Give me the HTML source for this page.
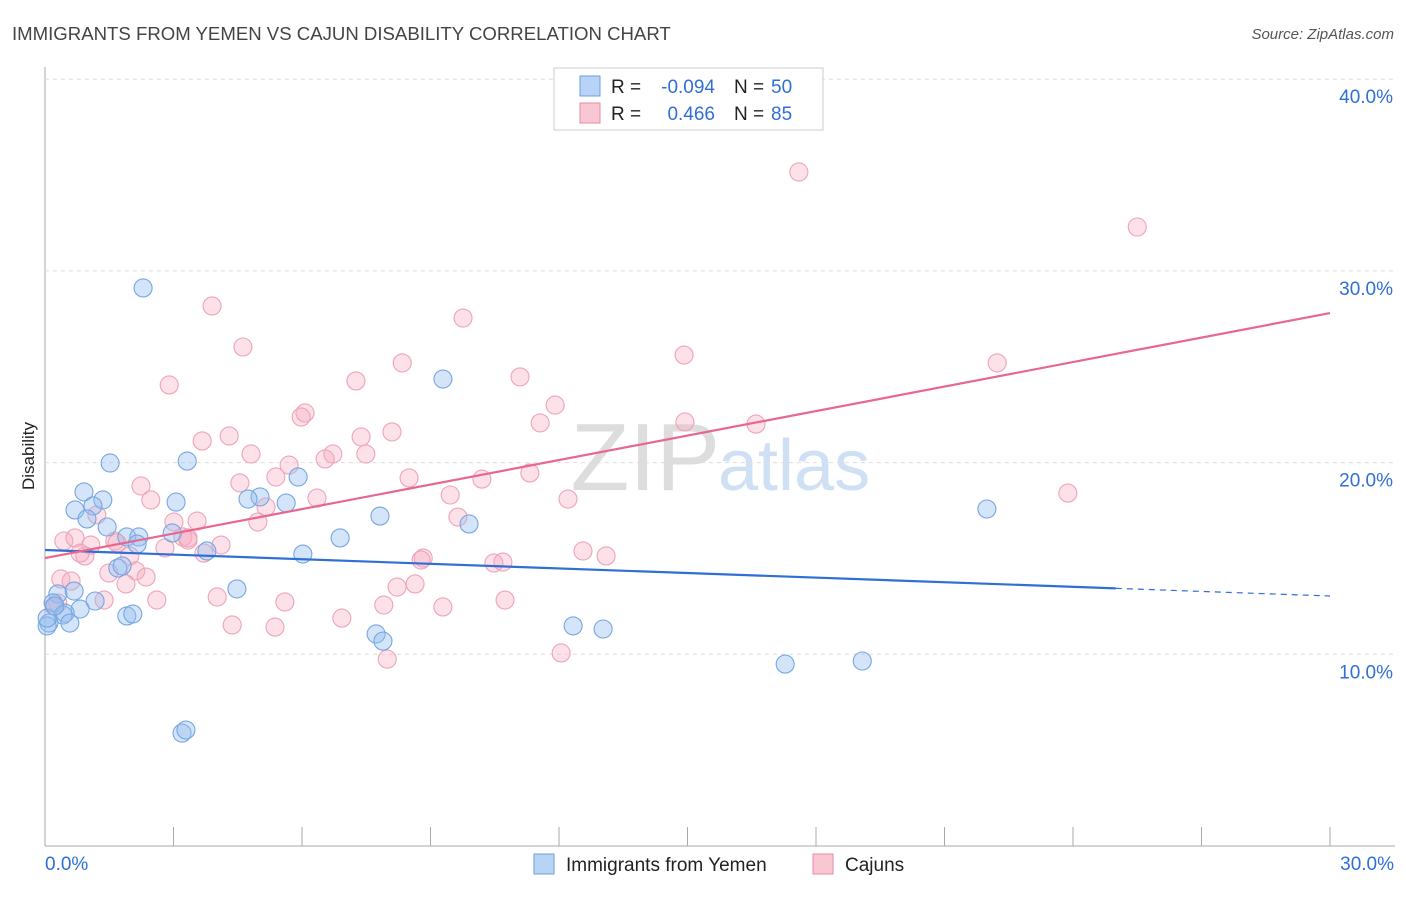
<!DOCTYPE html>
<html><head><meta charset="utf-8"><style>
body{margin:0;background:#fff;font-family:"Liberation Sans",sans-serif}
svg text{font-family:"Liberation Sans",sans-serif}
</style></head><body>
<svg id="c" width="1406" height="892">
<text x="12" y="40" font-size="18.6" fill="#444">IMMIGRANTS FROM YEMEN VS CAJUN DISABILITY CORRELATION CHART</text>
<text x="1394" y="39" font-size="15" fill="#555" font-style="italic" text-anchor="end">Source: ZipAtlas.com</text>
<text x="720" y="490" font-size="96" fill="#ddd" font-family="Liberation Serif" text-anchor="end">ZIP</text>
<text x="718" y="490" font-size="72" fill="#cfe0f5">atlas</text>
<text transform="translate(34,456) rotate(-90)" font-size="17" fill="#222" text-anchor="middle">Disability</text>
<g id="grid"></g><g id="pts"></g><g id="lines"></g>
<g>
<rect x="554" y="68" width="269" height="62" fill="#fff" stroke="#ccc"/>
<rect x="580" y="76" width="20" height="20" fill="#b8d3f5" stroke="#6a9fe0"/>
<rect x="580" y="103" width="20" height="20" fill="#f9c6d4" stroke="#e8899f"/>
<text x="611" y="93" font-size="19" fill="#222">R =</text>
<text x="715" y="93" font-size="19" fill="#2f6fd6" text-anchor="end">-0.094</text>
<text x="734" y="93" font-size="19" fill="#222">N =</text>
<text x="771" y="93" font-size="19" fill="#2f6fd6">50</text>
<text x="611" y="120" font-size="19" fill="#222">R =</text>
<text x="715" y="120" font-size="19" fill="#2f6fd6" text-anchor="end">0.466</text>
<text x="734" y="120" font-size="19" fill="#222">N =</text>
<text x="771" y="120" font-size="19" fill="#2f6fd6">85</text>
</g>
<g>
<rect x="534" y="854" width="20" height="20" fill="#b8d3f5" stroke="#6a9fe0"/>
<text x="566" y="871" font-size="19" fill="#222">Immigrants from Yemen</text>
<rect x="813" y="854" width="20" height="20" fill="#f9c6d4" stroke="#e8899f"/>
<text x="845" y="871" font-size="19" fill="#222">Cajuns</text>
</g>
</svg>
<script>
const yTicks=[10,20,30,40];
const xTickLabels=["0.0%","30.0%"];
const blueX=[2.29,9.29,1.52,3.32,0.91,1.35,0.70,1.12,3.06,5.02,4.74,5.63,5.91,0.98,1.45,7.82,9.90,6.89,1.91,2.19,2.15,2.97,3.78,6.02,1.70,1.80,4.48,0.68,0.30,1.17,0.82,0.19,0.47,0.42,0.58,0.09,0.05,1.91,2.05,7.73,7.89,12.33,13.03,17.28,19.08,3.20,3.29,21.99,0.05,0.23];
const blueY=[29.11,24.36,19.98,20.08,18.47,18.05,17.53,17.74,17.94,18.21,18.10,17.89,19.25,17.06,16.64,17.21,16.80,16.07,16.12,16.12,15.75,16.33,15.39,15.23,14.50,14.61,13.41,13.30,13.15,12.78,12.36,12.68,12.15,12.05,11.63,11.63,11.48,12.00,12.10,11.06,10.69,11.48,11.32,9.49,9.65,5.89,6.05,17.58,11.89,12.52];
const pinkX=[17.60,25.50,3.90,9.76,4.62,14.92,2.90,8.34,11.09,7.26,22.23,11.91,6.07,5.98,14.94,16.60,11.56,4.30,3.67,7.38,8.10,4.81,6.72,6.54,7.49,5.70,5.39,8.50,10.20,11.32,4.55,2.24,2.47,6.35,9.46,12.21,23.88,1.21,3.01,3.55,4.97,5.16,9.64,0.44,0.70,1.07,1.63,1.68,3.22,3.34,2.80,4.11,3.71,0.93,0.82,1.98,12.56,13.10,8.83,8.78,10.48,10.69,1.49,2.12,2.36,0.37,0.61,1.89,8.64,8.22,1.38,2.61,4.02,5.60,0.21,0.30,7.91,9.29,10.74,4.37,5.37,6.93,12.05,7.99,3.34];
const pinkY=[35.16,32.29,28.17,27.54,26.03,25.61,24.05,25.20,24.47,24.26,25.20,23.00,22.59,22.38,22.12,22.01,22.07,21.39,21.13,21.34,21.60,20.45,20.45,20.19,20.45,19.87,19.25,19.20,19.14,19.46,18.94,18.78,18.05,18.15,18.31,18.10,18.41,17.27,16.90,16.95,16.90,17.68,17.16,15.91,16.07,15.70,15.91,15.81,16.12,16.07,15.55,15.70,15.28,15.13,15.28,15.13,15.39,15.13,15.02,14.92,14.76,14.81,14.24,14.35,14.03,13.93,13.82,13.67,13.67,13.51,12.83,12.83,12.99,12.73,12.52,12.68,12.57,12.47,12.83,11.53,11.42,11.89,10.07,9.75,15.96];
const blueTrend=[15.44,13.04];
const pinkTrend=[15.02,27.80];
const X=v=>45+v*(1285/30), Y=v=>846-v*19.17;
const NS="http://www.w3.org/2000/svg";
function mk(tag,a,parent){const e=document.createElementNS(NS,tag);for(const k in a)e.setAttribute(k,a[k]);document.getElementById(parent).appendChild(e);return e;}
let e;
e=mk('line',{x1:45,y1:67,x2:45,y2:846,stroke:'#aaa'},'grid');


e=mk('line',{x1:45,y1:846,x2:1395,y2:846,stroke:'#aaa'},'grid');


yTicks.forEach(t=>{
 e=mk('line',{x1:45,y1:Y(t),x2:1395,y2:Y(t),stroke:'#ddd','stroke-dasharray':'4,4'},'grid');
 
 
 e=mk('text',{x:1393,y:Y(t)+24,'font-size':19,fill:'#2f6fd6','text-anchor':'end'},'grid');
 e.textContent=t.toFixed(1)+'%';
 
 
});
for(let i=0;i<=10;i++){
 e=mk('line',{x1:X(i*3),y1:827,x2:X(i*3),y2:846,stroke:'#aaa'},'grid');
 
 
}
e=mk('text',{x:45,y:870,'font-size':19,fill:'#2f6fd6'},'grid');e.textContent=xTickLabels[0];


e=mk('text',{x:1394,y:870,'font-size':19,fill:'#2f6fd6','text-anchor':'end'},'grid');e.textContent=xTickLabels[1];


pinkX.forEach((x,i)=>{
 e=mk('circle',{cx:X(x),cy:Y(pinkY[i]),r:9,fill:'rgba(245,170,192,0.35)',stroke:'#eea3b8','stroke-width':1.1},'pts');
 
 
});
blueX.forEach((x,i)=>{
 e=mk('circle',{cx:X(x),cy:Y(blueY[i]),r:9,fill:'rgba(150,190,240,0.4)',stroke:'#75a6e2','stroke-width':1.1},'pts');
 
 
});
const bAt=x=>blueTrend[0]+(blueTrend[1]-blueTrend[0])*x/30;
e=mk('line',{x1:X(0),y1:Y(bAt(0)),x2:X(25),y2:Y(bAt(25)),stroke:'#2f6fd6','stroke-width':2.2},'lines');


e=mk('line',{x1:X(25),y1:Y(bAt(25)),x2:X(30),y2:Y(bAt(30)),stroke:'#2f6fd6','stroke-width':1.2,'stroke-dasharray':'6,5'},'lines');


e=mk('line',{x1:X(0),y1:Y(pinkTrend[0]),x2:X(30),y2:Y(pinkTrend[1]),stroke:'#e8678f','stroke-width':2.2},'lines');


</script>
</body></html>
